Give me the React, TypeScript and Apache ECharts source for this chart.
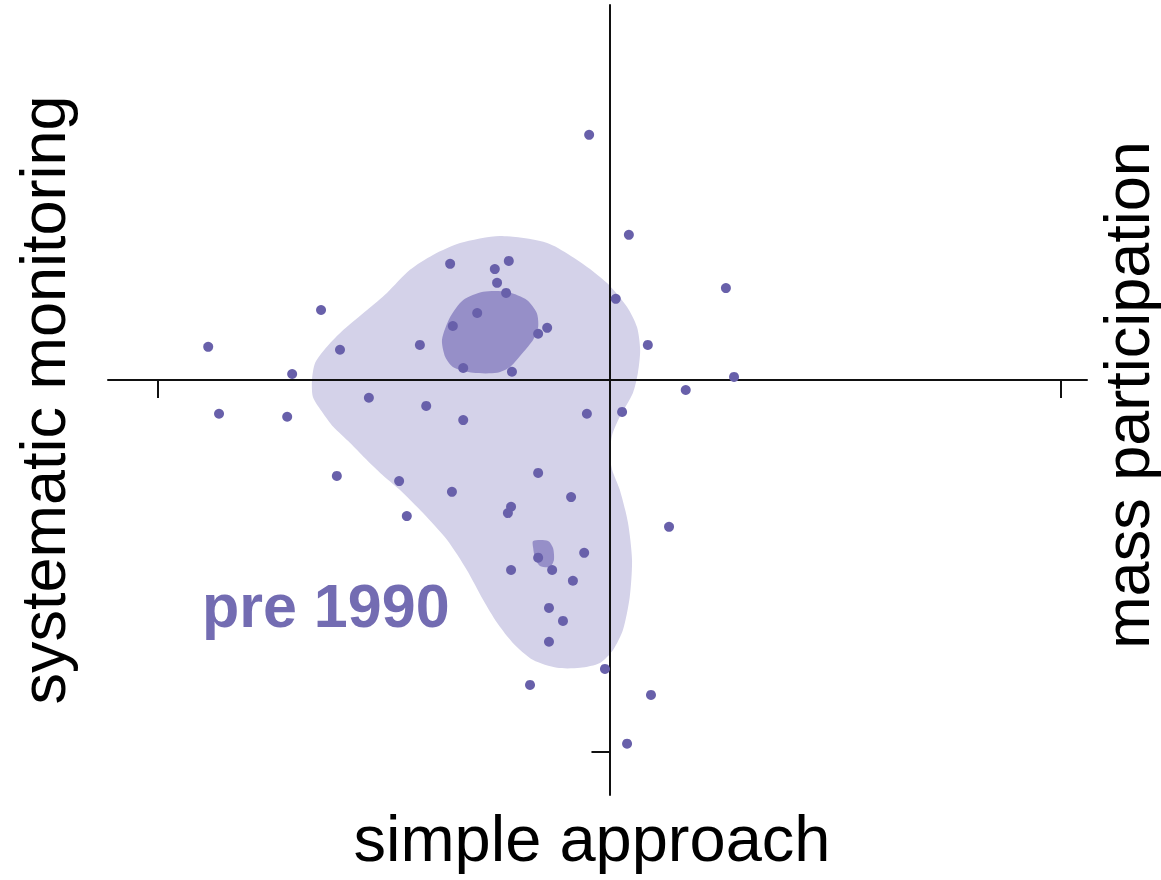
import React, { useEffect, useRef } from "react";
import * as echarts from "echarts";

// Scatter observations (x, y)
const POINTS_X = [
  -0.045, 0.043, -0.353, -0.254, -0.223, -0.249, -0.229, 0.014, 0.258, -0.639,
  -0.293, -0.347, -0.138, -0.158, -0.889, -0.597, -0.42, 0.085, -0.324, -0.216,
  -0.703, 0.276, 0.169, -0.533, -0.406, -0.324, -0.865, -0.714, -0.05, 0.028,
  -0.604, -0.466, -0.349, -0.158, -0.085, -0.218, -0.225, -0.449, 0.132, -0.158,
  -0.127, -0.056, -0.218, -0.081, -0.134, -0.103, -0.134, -0.01, -0.176, 0.092,
  0.039,
];
const POINTS_Y = [
  0.659, 0.39, 0.312, 0.298, 0.32, 0.261, 0.234, 0.218, 0.247, 0.188,
  0.18, 0.145, 0.14, 0.124, 0.089, 0.081, 0.094, 0.094, 0.032, 0.022,
  0.016, 0.008, -0.027, -0.048, -0.07, -0.108, -0.091, -0.099, -0.091, -0.086,
  -0.258, -0.272, -0.301, -0.25, -0.315, -0.341, -0.358, -0.366, -0.395, -0.478,
  -0.511, -0.465, -0.511, -0.54, -0.613, -0.648, -0.704, -0.777, -0.82, -0.847,
  -0.978,
];

// Density contour outlines (outer = lower level, inner = higher level)
const CONTOUR_OUTER = [
  [-0.243, 0.387], [-0.138, 0.368], [-0.065, 0.317], [-0.006, 0.261], [0.039, 0.196],
  [0.061, 0.142], [0.068, 0.081], [0.063, 0.019], [0.052, -0.035], [0.023, -0.099],
  [0.006, -0.148], [0.001, -0.202], [0.006, -0.242], [0.023, -0.296], [0.041, -0.384],
  [0.05, -0.484], [0.045, -0.583], [0.03, -0.672], [0.008, -0.726], [-0.021, -0.761],
  [-0.065, -0.774], [-0.116, -0.774], [-0.169, -0.753], [-0.214, -0.707], [-0.249, -0.653],
  [-0.28, -0.591], [-0.316, -0.511], [-0.36, -0.43], [-0.413, -0.358], [-0.464, -0.296],
  [-0.508, -0.25], [-0.542, -0.21], [-0.575, -0.169], [-0.612, -0.126], [-0.635, -0.089],
  [-0.657, -0.046], [-0.659, 0.0], [-0.652, 0.046], [-0.626, 0.089], [-0.59, 0.134],
  [-0.537, 0.188], [-0.493, 0.234], [-0.442, 0.296], [-0.391, 0.336], [-0.331, 0.368],
];
const CONTOUR_INNER_A = [
  [-0.371, 0.108], [-0.353, 0.169], [-0.324, 0.215], [-0.28, 0.237], [-0.227, 0.237],
  [-0.183, 0.215], [-0.161, 0.18], [-0.158, 0.142], [-0.169, 0.108], [-0.192, 0.073],
  [-0.22, 0.035], [-0.249, 0.019], [-0.302, 0.019], [-0.347, 0.035], [-0.364, 0.062],
];
const CONTOUR_INNER_B = [
  [-0.169, -0.433], [-0.136, -0.433], [-0.125, -0.452], [-0.123, -0.484],
  [-0.132, -0.503], [-0.154, -0.5], [-0.165, -0.478], [-0.169, -0.452],
];

const X_TICKS = [-1, 1];
const Y_TICKS = [-1];

const X_TITLE = "simple approach";
const Y_TITLE_LEFT = "systematic monitoring";
const Y_TITLE_RIGHT = "mass participation";
const GROUP_LABEL = "pre 1990";

const POINT_COLOR = "#6860aa";
const LIGHT_FILL = "#d4d2e9";
const DARK_FILL = "#968fc8";
const FONT = "'Liberation Sans', Arial, sans-serif";

function contourSeries(points: number[][], fill: string, z: number) {
  return {
    type: "custom",
    silent: true,
    z,
    data: [[0, 0]],
    renderItem: (_params: any, api: any) => ({
      type: "polygon",
      shape: { points: points.map((p) => api.coord(p)), smooth: 0.25 },
      style: { fill, stroke: "none" },
    }),
  };
}

export default function App() {
  const ref = useRef<HTMLDivElement>(null);
  useEffect(() => {
    if (!ref.current) return;
    const chart = echarts.init(ref.current, null, { renderer: "svg" });
    chart.setOption({
      animation: false,
      backgroundColor: "#ffffff",
      grid: { left: 108, right: 74, top: 5, bottom: 85, outerBoundsMode: "none" },
      xAxis: {
        type: "value",
        z: 8,
        min: -1.111,
        max: 1.058,
        axisLine: { onZero: true, lineStyle: { color: "#111", width: 2 } },
        axisTick: { show: true, customValues: X_TICKS, length: 18, lineStyle: { color: "#111", width: 2 } },
        axisLabel: { show: false },
        splitLine: { show: false },
      },
      yAxis: {
        type: "value",
        z: 8,
        min: -1.116,
        max: 1.008,
        axisLine: { show: true, onZero: true, lineStyle: { color: "#111", width: 2 } },
        axisTick: { show: true, customValues: Y_TICKS, length: 18, lineStyle: { color: "#111", width: 2 } },
        axisLabel: { show: false },
        splitLine: { show: false },
      },
      series: [
        contourSeries(CONTOUR_OUTER, LIGHT_FILL, 1),
        contourSeries(CONTOUR_INNER_A, DARK_FILL, 2),
        contourSeries(CONTOUR_INNER_B, DARK_FILL, 2),
        {
          type: "scatter",
          z: 9,
          symbol: "circle",
          symbolSize: 10,
          itemStyle: { color: POINT_COLOR, opacity: 1 },
          data: POINTS_X.map((x, i) => [x, POINTS_Y[i]]),
        },
      ],
      graphic: [
        {
          type: "text",
          x: 43,
          y: 400,
          rotation: Math.PI / 2,
          style: { text: Y_TITLE_LEFT, fontSize: 63, fontFamily: FONT, fill: "#000", textAlign: "center", textVerticalAlign: "middle" },
        },
        {
          type: "text",
          x: 1127,
          y: 395,
          rotation: Math.PI / 2,
          style: { text: Y_TITLE_RIGHT, fontSize: 63, fontFamily: FONT, fill: "#000", textAlign: "center", textVerticalAlign: "middle" },
        },
        {
          type: "text",
          x: 592,
          y: 838,
          style: { text: X_TITLE, fontSize: 65, fontFamily: FONT, fill: "#000", textAlign: "center", textVerticalAlign: "middle" },
        },
        {
          type: "text",
          x: 202,
          y: 606,
          z: 10,
          style: { text: GROUP_LABEL, fontSize: 61, fontWeight: "bold", fontFamily: FONT, fill: "#736cb2", textAlign: "left", textVerticalAlign: "middle" },
        },
      ],
    });
    return () => chart.dispose();
  }, []);
  return <div ref={ref} style={{ position: "absolute", left: 0, top: 0, width: 1161, height: 880 }} />;
}
